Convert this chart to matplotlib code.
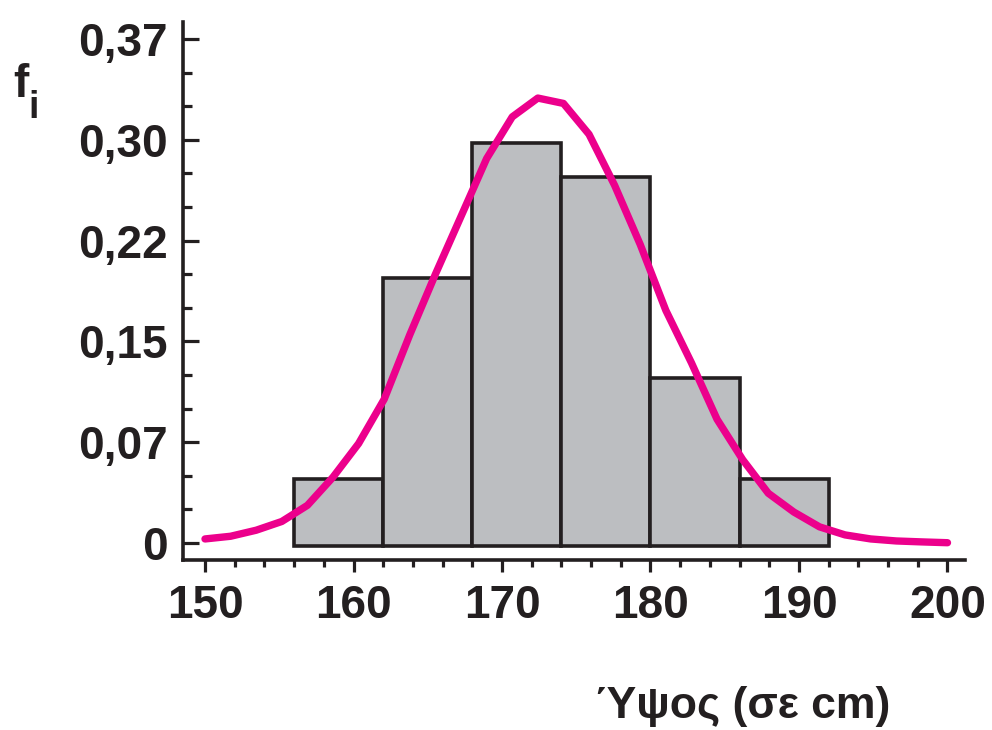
import numpy as np
import matplotlib
matplotlib.use("Agg")
import matplotlib.pyplot as plt
from matplotlib.ticker import MultipleLocator, FixedLocator

# Height classes (cm) and relative frequencies f_i
bin_edges = [156, 162, 168, 174, 180, 186, 192]
rel_freq = [0.05, 0.20, 0.30, 0.275, 0.125, 0.05]

# Fitted bell curve, sampled at 30 heights between 150 and 200 cm
curve_x = np.linspace(150, 200, 30)
curve_y = [0.003, 0.005, 0.0095, 0.016, 0.028, 0.049, 0.074, 0.107,
           0.155, 0.200, 0.243, 0.286, 0.317, 0.331, 0.327, 0.304,
           0.266, 0.222, 0.173, 0.134, 0.092, 0.062, 0.037, 0.023,
           0.012, 0.006, 0.003, 0.0015, 0.0008, 0.0002]

ytick_values = [0, 0.075, 0.15, 0.225, 0.30, 0.375]
ytick_labels = ["0", "0,07", "0,15", "0,22", "0,30", "0,37"]
xtick_values = [150, 160, 170, 180, 190, 200]
xtick_labels = ["150", "160", "170", "180", "190", "200"]

DARK = "#231F20"
BAR_FILL = "#BCBEC1"
CURVE = "#EC008C"

plt.rcParams["font.family"] = ["Liberation Sans", "DejaVu Sans"]
plt.rcParams["font.weight"] = "bold"

fig = plt.figure(figsize=(9.92, 7.30), dpi=100)
ax = fig.add_axes([0.1845, 0.2329, 0.7883, 0.737])

widths = np.diff(bin_edges)
ax.bar(bin_edges[:-1], rel_freq, width=widths, align="edge", bottom=-0.0025,
       color=BAR_FILL, edgecolor=DARK, linewidth=2.6, zorder=2)

ax.plot(curve_x, curve_y, color=CURVE, lw=5.3, solid_capstyle="round",
        solid_joinstyle="round", zorder=3)

ax.set_xlim(148.52, 201.18)
ax.set_ylim(-0.01265, 0.3876)

for side in ("top", "right"):
    ax.spines[side].set_visible(False)
for side in ("left", "bottom"):
    ax.spines[side].set_linewidth(2.6)
    ax.spines[side].set_color(DARK)

ax.yaxis.set_major_locator(FixedLocator(ytick_values))
ax.set_yticklabels(ytick_labels)
ax.yaxis.set_minor_locator(MultipleLocator(0.025))
ax.xaxis.set_major_locator(FixedLocator(xtick_values))
ax.set_xticklabels(xtick_labels)
ax.xaxis.set_minor_locator(MultipleLocator(2))

ax.tick_params(axis="y", which="major", direction="in", length=11.5,
               width=2.3, color=DARK, pad=11, labelsize=33, labelcolor=DARK)
ax.tick_params(axis="y", which="minor", direction="in", length=6.5,
               width=2.3, color=DARK)
ax.tick_params(axis="x", which="major", direction="out", length=8.6,
               width=2.3, color=DARK, pad=8.5, labelsize=33, labelcolor=DARK)
ax.tick_params(axis="x", which="minor", direction="out", length=5,
               width=2.3, color=DARK)

for lbl in ax.get_xticklabels() + ax.get_yticklabels():
    lbl.set_fontweight("bold")

# Axis titles
fig.text(13 / 992, 1 - 97 / 730, "f", fontsize=33, fontweight="bold",
         color=DARK, ha="left", va="baseline")
fig.text(28 / 992, 1 - 118 / 730, "i", fontsize=27, fontweight="bold",
         color=DARK, ha="left", va="baseline")
fig.text(890 / 992, 1 - 718 / 730, "Ύψος (σε cm)", fontsize=32,
         fontweight="bold", color=DARK, ha="right", va="baseline")

fig.savefig("out.png", dpi=100)
